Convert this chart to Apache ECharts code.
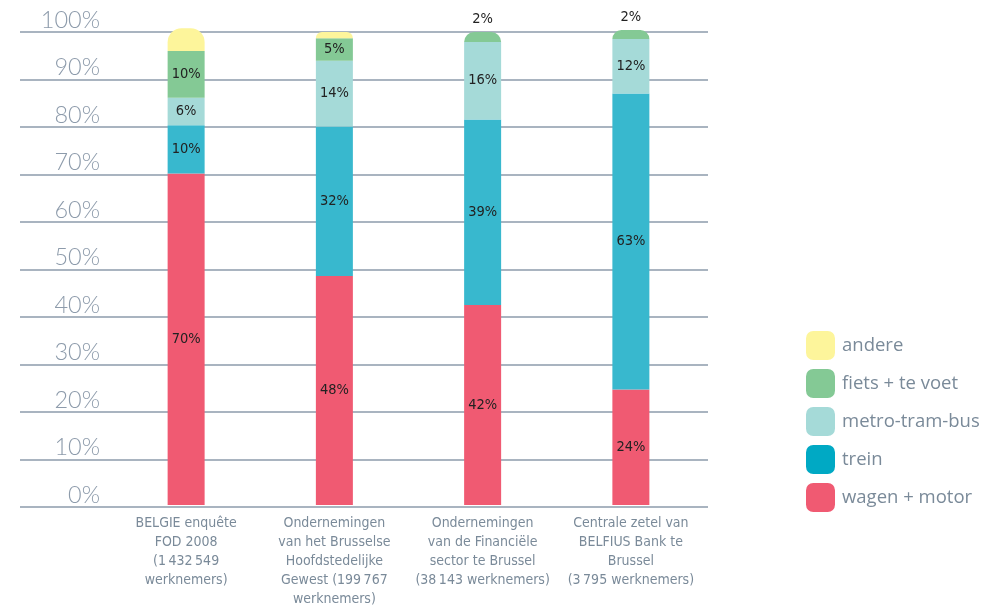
<!DOCTYPE html>
<html>
<head>
<meta charset="utf-8">
<script src="https://cdn.jsdelivr.net/npm/echarts@6/dist/echarts.min.js"></script>
<style>
html,body{margin:0;padding:0;background:#fff;}
#chart{width:1002px;height:609px;}
</style>
</head>
<body>
<div id="chart"></div>
<script>
// ---- data ----
var categories = [
  "BELGIE enquête\nFOD 2008\n(1\u202f432\u202f549\nwerknemers)",
  "Ondernemingen\nvan het Brusselse\nHoofdstedelijke\nGewest (199\u202f767\nwerknemers)",
  "Ondernemingen\nvan de Financiële\nsector te Brussel\n(38\u202f143 werknemers)",
  "Centrale zetel van\nBELFIUS Bank te\nBrussel\n(3\u202f795 werknemers)"
];
var seriesNames = ["wagen + motor", "trein", "metro-tram-bus", "fiets + te voet", "andere"];
var wagen  = [70.1, 48.4, 42.3, 24.4];
var trein  = [10.2, 31.6, 39.2, 62.6];
var metro  = [5.8, 13.9, 16.4, 11.5];
var fiets  = [9.9, 4.8, 2.1, 1.9];
var andere = [4.8, 1.3, 0, 0];
var yTicks = [0, 10, 20, 30, 40, 50, 60, 70, 80, 90, 100];

var colors = ["#f05a72", "#38b8ce", "#a5dad8", "#84c995", "#fdf59b"];
var legendColors = ["#f05a72", "#00a9c4", "#a5dad8", "#84c995", "#fdf59b"];
var values = [wagen, trein, metro, fiets, andere];

// topmost non-zero segment per category
var topIdx = categories.map(function (c, ci) {
  var t = 0;
  for (var s = 0; s < values.length; s++) if (values[s][ci] > 0) t = s;
  return t;
});

var txtColor = "#7a8a99";
var gridColor = "#8d9bab";
var condensed = "'Liberation Sans Narrow','DejaVu Sans Condensed','Roboto',sans-serif";

var series = [];
// invisible series on grid 0 so that the axis exists
series.push({type: 'line', xAxisIndex: 0, yAxisIndex: 0, data: [], silent: true});

values.forEach(function (arr, si) {
  series.push({
    name: seriesNames[si],
    type: 'bar',
    stack: 'total',
    xAxisIndex: 1,
    yAxisIndex: 1,
    barWidth: 37,
    clip: false,
    itemStyle: {color: colors[si]},
    label: {
      show: si !== 4,
      position: 'inside',
      color: '#222',
      fontSize: 14.5,
      fontFamily: "'DejaVu Sans Condensed','Roboto',sans-serif",
      formatter: function (p) { return p.value > 0 ? Math.round(p.value) + '%' : ''; }
    },
    data: arr.map(function (v, ci) {
      var item = {value: v};
      if (topIdx[ci] === si) {
        item.itemStyle = {borderRadius: [14, 14, 0, 0]};
      }
      if (si === 3 && v < 3) {
        item.label = {position: 'top', distance: 5};
      }
      return item;
    })
  });
});

var chart = echarts.init(document.getElementById('chart'));
chart.setOption({
  animation: false,
  backgroundColor: '#fff',
  grid: [
    {left: 20, right: 294, top: 32, bottom: 102},
    {left: 112, right: 297, top: 32, bottom: 102}
  ],
  xAxis: [
    {type: 'value', gridIndex: 0, show: false, min: 0, max: 1},
    {
      type: 'category', gridIndex: 1, data: categories,
      axisLine: {show: false}, axisTick: {show: false},
      axisLabel: {
        interval: 0, margin: 9, color: txtColor, fontSize: 14, lineHeight: 19,
        fontFamily: condensed
      }
    }
  ],
  yAxis: [
    {
      type: 'value', gridIndex: 0, min: yTicks[0], max: yTicks[yTicks.length - 1], interval: 10,
      offset: -80,
      axisLine: {show: false}, axisTick: {show: false},
      splitLine: {show: true, lineStyle: {color: gridColor, width: 1.5}},
      axisLabel: {
        margin: 0, color: '#8d9bab', fontSize: 23.5, fontWeight: 300,
        fontFamily: "'Lato','Open Sans',sans-serif",
        verticalAlign: 'bottom',
        formatter: '{value}%'
      }
    },
    {type: 'value', gridIndex: 1, min: 0, max: 100, show: false}
  ],
  legend: {
    orient: 'vertical',
    left: 801,
    top: 326,
    itemWidth: 29,
    itemHeight: 29,
    itemGap: 9,
    icon: 'roundRect',
    textStyle: {color: txtColor, fontSize: 18.5, fontFamily: "'Open Sans','Lato',sans-serif", padding: [0, 0, 0, 2]},
    data: [4, 3, 2, 1, 0].map(function (i) {
      return {name: seriesNames[i], itemStyle: {color: legendColors[i]}};
    })
  },
  series: series
});
</script>
</body>
</html>
